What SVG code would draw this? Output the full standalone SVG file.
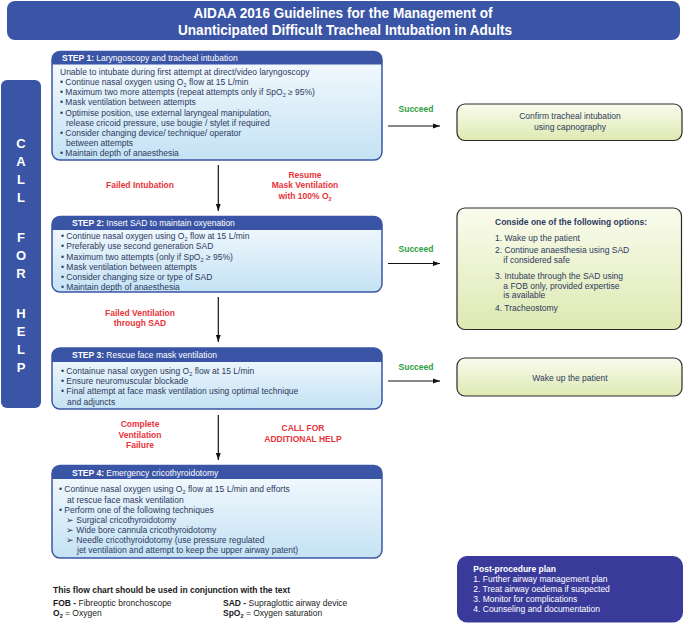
<svg xmlns="http://www.w3.org/2000/svg" width="685" height="623" viewBox="0 0 685 623">
<defs>
<linearGradient id="gBlue" x1="0" y1="0" x2="0" y2="1">
<stop offset="0" stop-color="#f7fbfe"/><stop offset="1" stop-color="#c4e2f4"/>
</linearGradient>
<linearGradient id="gGreen" x1="0" y1="0" x2="0" y2="1">
<stop offset="0" stop-color="#fafcee"/><stop offset="1" stop-color="#dde9b2"/>
</linearGradient>
<marker id="ah" viewBox="0 0 10 10" refX="10" refY="5" markerWidth="7" markerHeight="7" orient="auto" markerUnits="userSpaceOnUse">
<path d="M0,1.5 L10,5 L0,8.5 Z" fill="#111"/>
</marker>
<style>
text{font-family:"Liberation Sans",Arial,sans-serif;}
.title{font-size:15px;font-weight:bold;fill:#fff;}
.box{fill:url(#gBlue);stroke:#3b55a6;stroke-width:1.5;}
.hdr{fill:#3b55a6;}
.ht{font-size:8.5px;fill:#fff;}
.ht tspan.b{font-weight:bold;}
.bt{font-size:8.5px;fill:#2e3a60;}
.sub{font-size:5.5px;}
.red{font-size:8.5px;font-weight:bold;fill:#e8343a;text-anchor:middle;}
.grn{font-size:8.5px;font-weight:bold;fill:#2e9e44;text-anchor:middle;}
.rbox{fill:url(#gGreen);stroke:#2a2a2a;stroke-width:1.2;}
.rt{font-size:8.5px;fill:#2e3a60;}
.conn{stroke:#111;stroke-width:1.2;fill:none;marker-end:url(#ah);}
.leg{font-size:8.5px;fill:#1a1a1a;}
.cfh{font-size:13px;font-weight:bold;fill:#fff;text-anchor:middle;}
.pp{font-size:8.5px;fill:#fff;}
</style>
</defs>

<g id="title">
<rect x="7" y="1" width="673" height="39" rx="8" fill="#3b55a6"/>
<text class="title" x="343" y="17.5" text-anchor="middle" textLength="299" lengthAdjust="spacingAndGlyphs">AIDAA 2016 Guidelines for the Management of</text>
<text class="title" x="345" y="34.5" text-anchor="middle" textLength="334" lengthAdjust="spacingAndGlyphs">Unanticipated Difficult Tracheal Intubation in Adults</text>
</g>

<g id="callforhelp">
<rect x="1" y="80" width="40" height="328" rx="6" fill="#3b55a6"/>
<text class="cfh" x="21" y="148">C</text>
<text class="cfh" x="21" y="166">A</text>
<text class="cfh" x="21" y="184">L</text>
<text class="cfh" x="21" y="202">L</text>
<text class="cfh" x="21" y="242">F</text>
<text class="cfh" x="21" y="260">O</text>
<text class="cfh" x="21" y="278">R</text>
<text class="cfh" x="21" y="318">H</text>
<text class="cfh" x="21" y="336">E</text>
<text class="cfh" x="21" y="354">L</text>
<text class="cfh" x="21" y="372">P</text>
</g>

<g id="step1">
<rect class="box" x="52" y="51.5" width="330" height="108.5" rx="8"/>
<path class="hdr" d="M52,64.5 L52,59.5 A8,8 0 0 1 60,51.5 L374,51.5 A8,8 0 0 1 382,59.5 L382,64.5 Z"/>
<text class="ht" x="62" y="61"><tspan class="b">STEP 1:</tspan> Laryngoscopy and tracheal intubation</text>
<text class="bt" x="60" y="74.7">Unable to intubate during first attempt at direct/video laryngoscopy</text>
<text class="bt" x="60" y="84.9">• Continue nasal oxygen using O<tspan class="sub" dy="2">2</tspan><tspan dy="-2"> flow at 15 L/min</tspan></text>
<text class="bt" x="60" y="95.1">• Maximum two more attempts (repeat attempts only if SpO<tspan class="sub" dy="2">2</tspan><tspan dy="-2"> ≥ 95%)</tspan></text>
<text class="bt" x="60" y="105.3">• Mask ventilation between attempts</text>
<text class="bt" x="60" y="115.5">• Optimise position, use external laryngeal manipulation,</text>
<text class="bt" x="66" y="125.7">release cricoid pressure, use bougie / stylet if required</text>
<text class="bt" x="60" y="135.9">• Consider changing device/ technique/ operator</text>
<text class="bt" x="66" y="146.1">between attempts</text>
<text class="bt" x="60" y="156.3">• Maintain depth of anaesthesia</text>
</g>

<g id="step2">
<rect class="box" x="52" y="216.5" width="330" height="75.5" rx="8"/>
<path class="hdr" d="M52,230 L52,224.5 A8,8 0 0 1 60,216.5 L374,216.5 A8,8 0 0 1 382,224.5 L382,230 Z"/>
<text class="ht" x="72" y="226"><tspan class="b">STEP 2:</tspan> Insert SAD to maintain oxyenation</text>
<text class="bt" x="61" y="239.3">• Continue nasal oxygen using O<tspan class="sub" dy="2">2</tspan><tspan dy="-2"> flow at 15 L/min</tspan></text>
<text class="bt" x="61" y="249.4">• Preferably use second generation SAD</text>
<text class="bt" x="61" y="259.5">• Maximum two attempts (only if SpO<tspan class="sub" dy="2">2</tspan><tspan dy="-2"> ≥ 95%)</tspan></text>
<text class="bt" x="61" y="269.6">• Mask ventilation between attempts</text>
<text class="bt" x="61" y="279.7">• Consider changing size or type of SAD</text>
<text class="bt" x="61" y="289.8">• Maintain depth of anaesthesia</text>
</g>

<g id="step3">
<rect class="box" x="52" y="348" width="330" height="61" rx="8"/>
<path class="hdr" d="M52,362 L52,356 A8,8 0 0 1 60,348 L374,348 A8,8 0 0 1 382,356 L382,362 Z"/>
<text class="ht" x="72" y="358"><tspan class="b">STEP 3:</tspan> Rescue face mask ventilation</text>
<text class="bt" x="61" y="374">• Containue nasal oxygen using O<tspan class="sub" dy="2">2</tspan><tspan dy="-2"> flow at 15 L/min</tspan></text>
<text class="bt" x="61" y="384">• Ensure neuromuscular blockade</text>
<text class="bt" x="61" y="394">• Final attempt at face mask ventilation using optimal technique</text>
<text class="bt" x="67" y="404.5">and adjuncts</text>
</g>

<g id="step4">
<rect class="box" x="52" y="465.5" width="330" height="92.5" rx="8"/>
<path class="hdr" d="M52,479 L52,473.5 A8,8 0 0 1 60,465.5 L374,465.5 A8,8 0 0 1 382,473.5 L382,479 Z"/>
<text class="ht" x="72" y="475.7"><tspan class="b">STEP 4:</tspan> Emergency cricothyroidotomy</text>
<text class="bt" x="59" y="492.3">• Continue nasal oxygen using O<tspan class="sub" dy="2">2</tspan><tspan dy="-2"> flow at 15 L/min and efforts</tspan></text>
<text class="bt" x="67" y="502.7">at rescue face mask ventilation</text>
<text class="bt" x="59" y="513">• Perform one of the following techniques</text>
<text class="bt" x="66" y="523.3">➢ Surgical cricothyroidotomy</text>
<text class="bt" x="66" y="533.3">➢ Wide bore cannula cricothyroidotomy</text>
<text class="bt" x="66" y="543.3">➢ Needle cricothyroidotomy (use pressure regulated</text>
<text class="bt" x="77" y="552.5">jet ventilation and attempt to keep the upper airway patent)</text>
</g>

<g id="result1">
<rect class="rbox" x="457" y="104" width="225" height="36.5" rx="8"/>
<text class="rt" x="570" y="119" text-anchor="middle">Confirm tracheal intubation</text>
<text class="rt" x="570" y="129.7" text-anchor="middle">using capnography</text>
</g>

<g id="result2">
<rect class="rbox" x="457" y="208" width="224.5" height="121.5" rx="8"/>
<text class="rt" x="495" y="225" font-weight="bold">Conside one of the following options:</text>
<text class="rt" x="495" y="240.7">1. Wake up the patient</text>
<text class="rt" x="495" y="253">2. Continue anaesthesia using SAD</text>
<text class="rt" x="503.3" y="263.3">if considered safe</text>
<text class="rt" x="495" y="278.7">3. Intubate through the SAD using</text>
<text class="rt" x="503.3" y="288.7">a FOB only, provided expertise</text>
<text class="rt" x="503.3" y="298.3">is available</text>
<text class="rt" x="495" y="310.7">4. Tracheostomy</text>
</g>

<g id="result3">
<rect class="rbox" x="457" y="358" width="225" height="38" rx="8"/>
<text class="rt" x="570" y="381" text-anchor="middle">Wake up the patient</text>
</g>

<g id="postprocedure">
<rect x="457" y="556" width="226" height="66.5" rx="10" fill="#3a3a9b"/>
<text class="pp" x="473.3" y="571.7" font-weight="bold">Post-procedure plan</text>
<text class="pp" x="473.3" y="582.3">1. Further airway management plan</text>
<text class="pp" x="473.3" y="592.3">2. Treat airway oedema if suspected</text>
<text class="pp" x="473.3" y="602.3">3. Monitor for complications</text>
<text class="pp" x="473.3" y="612.3">4. Counseling and documentation</text>
</g>

<g id="legend">
<text class="leg" x="53" y="592.7" font-weight="bold">This flow chart should be used in conjunction with the text</text>
<text class="leg" x="53" y="606"><tspan font-weight="bold">FOB -</tspan> Fibreoptic bronchoscope</text>
<text class="leg" x="53" y="616"><tspan font-weight="bold">O</tspan><tspan class="sub" font-weight="bold" dy="2">2</tspan><tspan dy="-2"> = Oxygen</tspan></text>
<text class="leg" x="223" y="606"><tspan font-weight="bold">SAD -</tspan> Supraglottic airway device</text>
<text class="leg" x="223" y="616"><tspan font-weight="bold">SpO</tspan><tspan class="sub" font-weight="bold" dy="2">2</tspan><tspan dy="-2"> = Oxygen saturation</tspan></text>
</g>

<g id="connectors">
<line class="conn" x1="218.3" y1="165" x2="218.3" y2="211"/>
<line class="conn" x1="218.3" y1="297" x2="218.3" y2="342"/>
<line class="conn" x1="218.3" y1="415" x2="218.3" y2="460"/>
<line class="conn" x1="388" y1="126" x2="440" y2="126"/>
<line class="conn" x1="388" y1="263.5" x2="440" y2="263.5"/>
<line class="conn" x1="388" y1="381" x2="440" y2="381"/>
</g>

<g id="labels">
<text class="red" x="140" y="188">Failed Intubation</text>
<text class="red" x="305" y="178">Resume</text>
<text class="red" x="305" y="188">Mask Ventilation</text>
<text class="red" x="305" y="198.5">with 100% O<tspan class="sub" dy="2">2</tspan></text>
<text class="red" x="140" y="316">Failed Ventilation</text>
<text class="red" x="140" y="326">through SAD</text>
<text class="red" x="140" y="427">Complete</text>
<text class="red" x="140" y="437.5">Ventilation</text>
<text class="red" x="140" y="448">Failure</text>
<text class="red" x="303" y="431">CALL FOR</text>
<text class="red" x="303" y="441.5">ADDITIONAL HELP</text>
<text class="grn" x="416" y="112">Succeed</text>
<text class="grn" x="416" y="252">Succeed</text>
<text class="grn" x="416" y="370">Succeed</text>
</g>
</svg>
